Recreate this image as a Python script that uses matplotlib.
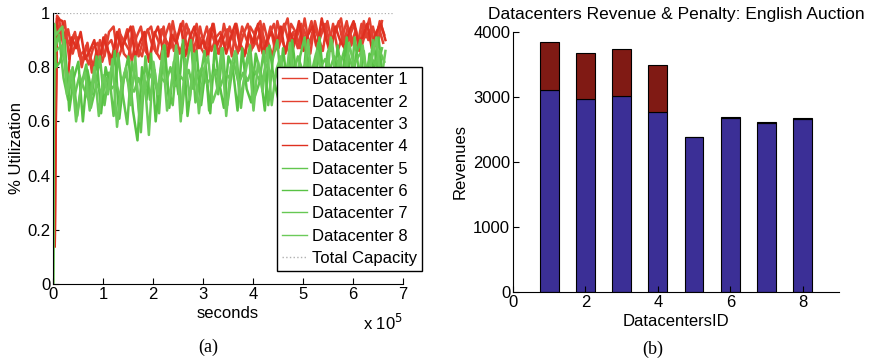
import numpy as np
import matplotlib
matplotlib.use('Agg')
import matplotlib.pyplot as plt

plt.rcParams['font.family'] = ['Liberation Sans', 'DejaVu Sans']
plt.rcParams['font.size'] = 12

# ---- (a) utilization traces -------------------------------------------------
# startup samples (seconds); the steady part is sampled every ~9150 s,
# each datacenter logging with its own small offset
red_startup_t = [0.035e5, 0.045e5, 0.08e5]
green_startup_t = [0.0, 0.025e5, 0.06e5]
n_samples = 72
sample_offsets = [0.0, 0.023e5, 0.046e5, 0.069e5, 0.0, 0.023e5, 0.046e5, 0.069e5]

dc_startup = [
    [0.14, 0.40, 0.99],
    [0.14, 0.55, 0.97],
    [0.14, 0.65, 0.95],
    [0.14, 0.45, 0.98],
    [0.00, 0.95, 0.88],
    [0.00, 0.90, 0.80],
    [0.00, 0.93, 0.86],
    [0.00, 0.96, 0.92],
]

dc1 = [0.98, 0.87, 0.94, 0.85, 0.91, 0.80, 0.88, 0.83, 0.79, 0.90,
       0.84, 0.93, 0.95, 0.83, 0.88, 0.94, 0.82, 0.91, 0.95, 0.86,
       0.83, 0.93, 0.89, 0.95, 0.84, 0.97, 0.88, 0.85, 0.96, 0.91,
       0.84, 0.95, 0.87, 0.93, 0.96, 0.85, 0.90, 0.94, 0.84, 0.96,
       0.88, 0.85, 0.95, 0.92, 0.86, 0.96, 0.89, 0.84, 0.97, 0.90,
       0.86, 0.96, 0.93, 0.87, 0.98, 0.88, 0.95, 0.91, 0.86, 0.97,
       0.89, 0.94, 0.98, 0.87, 0.92, 0.96, 0.86, 0.97, 0.90, 0.95, 0.88, 0.97]
dc2 = [0.90, 0.97, 0.83, 0.92, 0.88, 0.82, 0.89, 0.78, 0.86, 0.84,
       0.92, 0.81, 0.88, 0.94, 0.85, 0.83, 0.95, 0.87, 0.84, 0.93,
       0.95, 0.86, 0.83, 0.91, 0.96, 0.86, 0.92, 0.97, 0.85, 0.89,
       0.96, 0.87, 0.84, 0.94, 0.89, 0.85, 0.96, 0.88, 0.93, 0.85,
       0.95, 0.90, 0.86, 0.94, 0.97, 0.85, 0.92, 0.96, 0.87, 0.93,
       0.98, 0.86, 0.91, 0.96, 0.88, 0.85, 0.97, 0.90, 0.95, 0.87,
       0.96, 0.86, 0.91, 0.97, 0.88, 0.94, 0.86, 0.92, 0.98, 0.87, 0.95, 0.89]
dc3 = [0.95, 0.91, 0.88, 0.93, 0.84, 0.86, 0.81, 0.87, 0.89, 0.82,
       0.88, 0.90, 0.84, 0.92, 0.89, 0.86, 0.93, 0.84, 0.90, 0.94,
       0.88, 0.85, 0.94, 0.90, 0.87, 0.93, 0.85, 0.90, 0.94, 0.86,
       0.92, 0.89, 0.95, 0.86, 0.91, 0.93, 0.87, 0.95, 0.89, 0.86,
       0.92, 0.96, 0.87, 0.90, 0.94, 0.88, 0.95, 0.86, 0.91, 0.96,
       0.89, 0.93, 0.87, 0.95, 0.91, 0.97, 0.88, 0.93, 0.96, 0.89,
       0.92, 0.97, 0.88, 0.95, 0.90, 0.87, 0.96, 0.91, 0.94, 0.88, 0.97, 0.92]
dc4 = [0.97, 0.72, 0.91, 0.87, 0.93, 0.83, 0.86, 0.90, 0.80, 0.91,
       0.86, 0.83, 0.93, 0.87, 0.91, 0.95, 0.84, 0.89, 0.93, 0.82,
       0.91, 0.95, 0.87, 0.84, 0.92, 0.89, 0.96, 0.84, 0.91, 0.95,
       0.87, 0.90, 0.84, 0.96, 0.88, 0.92, 0.85, 0.91, 0.96, 0.88,
       0.84, 0.93, 0.89, 0.96, 0.85, 0.90, 0.93, 0.88, 0.95, 0.85,
       0.93, 0.89, 0.97, 0.86, 0.92, 0.95, 0.87, 0.98, 0.90, 0.86,
       0.95, 0.90, 0.87, 0.93, 0.97, 0.89, 0.91, 0.96, 0.87, 0.93, 0.96, 0.90]
dc5 = [0.92, 0.76, 0.68, 0.80, 0.62, 0.74, 0.81, 0.65, 0.72, 0.84,
       0.66, 0.78, 0.62, 0.85, 0.70, 0.59, 0.82, 0.74, 0.56, 0.84,
       0.68, 0.79, 0.63, 0.88, 0.72, 0.66, 0.86, 0.63, 0.80, 0.90,
       0.67, 0.75, 0.86, 0.64, 0.81, 0.70, 0.87, 0.66, 0.78, 0.85,
       0.65, 0.80, 0.88, 0.69, 0.74, 0.86, 0.66, 0.83, 0.90, 0.70,
       0.78, 0.88, 0.68, 0.84, 0.91, 0.72, 0.79, 0.89, 0.69, 0.85,
       0.90, 0.73, 0.82, 0.88, 0.70, 0.91, 0.77, 0.86, 0.72, 0.90, 0.80, 0.87]
dc6 = [0.82, 0.90, 0.64, 0.76, 0.82, 0.60, 0.79, 0.70, 0.84, 0.63,
       0.80, 0.72, 0.86, 0.61, 0.76, 0.84, 0.64, 0.53, 0.80, 0.68,
       0.85, 0.60, 0.78, 0.88, 0.65, 0.82, 0.70, 0.90, 0.62, 0.76,
       0.86, 0.66, 0.80, 0.63, 0.88, 0.74, 0.65, 0.84, 0.79, 0.64,
       0.87, 0.72, 0.67, 0.85, 0.78, 0.64, 0.88, 0.75, 0.68, 0.87,
       0.72, 0.90, 0.76, 0.67, 0.86, 0.80, 0.70, 0.91, 0.74, 0.82,
       0.69, 0.88, 0.76, 0.91, 0.71, 0.84, 0.90, 0.68, 0.85, 0.79, 0.91, 0.74]
dc7 = [0.88, 0.80, 0.74, 0.70, 0.77, 0.72, 0.68, 0.76, 0.73, 0.70,
       0.76, 0.72, 0.74, 0.69, 0.78, 0.73, 0.71, 0.76, 0.70, 0.75,
       0.78, 0.72, 0.76, 0.74, 0.80, 0.73, 0.77, 0.75, 0.79, 0.72,
       0.77, 0.80, 0.74, 0.76, 0.79, 0.73, 0.78, 0.76, 0.81, 0.74,
       0.78, 0.75, 0.80, 0.77, 0.74, 0.81, 0.78, 0.76, 0.82, 0.79,
       0.81, 0.77, 0.84, 0.79, 0.82, 0.78, 0.85, 0.80, 0.83, 0.79,
       0.84, 0.81, 0.78, 0.85, 0.80, 0.83, 0.86, 0.79, 0.84, 0.81, 0.86, 0.82]
dc8 = [0.95, 0.70, 0.79, 0.60, 0.72, 0.78, 0.64, 0.80, 0.62, 0.77,
       0.70, 0.83, 0.58, 0.74, 0.80, 0.66, 0.84, 0.60, 0.77, 0.55,
       0.82, 0.70, 0.86, 0.64, 0.74, 0.88, 0.60, 0.83, 0.68, 0.85,
       0.63, 0.78, 0.84, 0.67, 0.72, 0.87, 0.62, 0.80, 0.86, 0.68,
       0.76, 0.85, 0.64, 0.82, 0.71, 0.87, 0.66, 0.79, 0.84, 0.72,
       0.89, 0.68, 0.81, 0.74, 0.90, 0.70, 0.86, 0.78, 0.72, 0.91,
       0.76, 0.84, 0.70, 0.89, 0.81, 0.73, 0.88, 0.75, 0.83, 0.91, 0.74, 0.86]

dc_series = [dc1, dc2, dc3, dc4, dc5, dc6, dc7, dc8]
dc_names = ['Datacenter %d' % i for i in range(1, 9)]
dc_colors = ['#e3402f', '#e3402f', '#e3402f', '#df3020',
             '#62c64e', '#58c244', '#66c853', '#6ccb5a']
capacity = 1.0
capacity_span = [0.0, 6.8e5]

# ---- (b) revenue / penalty bars ---------------------------------------------
dc_ids = [1, 2, 3, 4, 5, 6, 7, 8]
revenue = [3110, 2965, 3010, 2765, 2385, 2675, 2600, 2665]
penalty = [730, 710, 730, 725, 0, 12, 10, 10]

fig = plt.figure(figsize=(8.73, 3.64), dpi=100)

# left panel
ax1 = fig.add_axes([0.0607, 0.2198, 0.4009, 0.7445])
for i, (start, vals, off, name, col) in enumerate(zip(dc_startup, dc_series,
                                                      sample_offsets, dc_names,
                                                      dc_colors)):
    st = red_startup_t if i < 4 else green_startup_t
    t = np.concatenate([st, np.linspace(0.12e5, 6.58e5, n_samples) + off])
    ax1.plot(t, np.concatenate([start, vals]), color=col, lw=1.8, label=name)
ax1.plot(capacity_span, [capacity, capacity], ls=':', color='#b0b0b0', lw=0.9,
         label='Total Capacity')

ax1.set_xlim(0, 7e5)
ax1.set_ylim(0, 1)
ax1.set_xticks(np.arange(0, 8) * 1e5)
ax1.set_xticklabels([str(i) for i in range(8)])
ax1.set_yticks([0, 0.2, 0.4, 0.6, 0.8, 1.0])
ax1.set_yticklabels(['0', '0.2', '0.4', '0.6', '0.8', '1'])
ax1.tick_params(direction='in', length=4, width=0.8, pad=2)
for s in ['top', 'right']:
    ax1.spines[s].set_visible(False)
ax1.set_xlabel('seconds', labelpad=3)
ax1.set_ylabel('% Utilization', labelpad=2)
ax1.text(1.0, -0.145, 'x 10$^{5}$', transform=ax1.transAxes, ha='right', va='center')

leg = ax1.legend(loc='upper right', bbox_to_anchor=(1.054, 0.80), borderaxespad=0,
                 fancybox=False, framealpha=1, edgecolor='black',
                 handlelength=1.5, handletextpad=0.3, labelspacing=0.44,
                 borderpad=0.3)
leg.get_frame().set_linewidth(1.0)
for h in leg.get_lines():
    h.set_linewidth(1.0)

# right panel
ax2 = fig.add_axes([0.5876, 0.1978, 0.3734, 0.7143])
ax2.bar(dc_ids, revenue, width=0.52, color='#3b2f96', edgecolor='black', lw=0.8)
ax2.bar(dc_ids, penalty, width=0.52, bottom=revenue, color='#801a14',
        edgecolor='black', lw=0.8)
ax2.set_xlim(0, 9)
ax2.set_ylim(0, 4000)
ax2.set_xticks([0, 2, 4, 6, 8])
ax2.set_yticks([0, 1000, 2000, 3000, 4000])
ax2.tick_params(direction='in', length=4, width=0.8, pad=2)
for s in ['top', 'right']:
    ax2.spines[s].set_visible(False)
ax2.set_xlabel('DatacentersID', labelpad=3)
ax2.set_ylabel('Revenues', labelpad=4)
ax2.set_title('Datacenters Revenue & Penalty: English Auction', fontsize=12.5, pad=9)

fig.text(208 / 873, 1 - 347 / 364, '(a)', family='Liberation Serif', fontsize=13,
         ha='center', va='center')
fig.text(653 / 873, 1 - 349 / 364, '(b)', family='Liberation Serif', fontsize=13,
         ha='center', va='center')

fig.savefig('out.png', dpi=100)
